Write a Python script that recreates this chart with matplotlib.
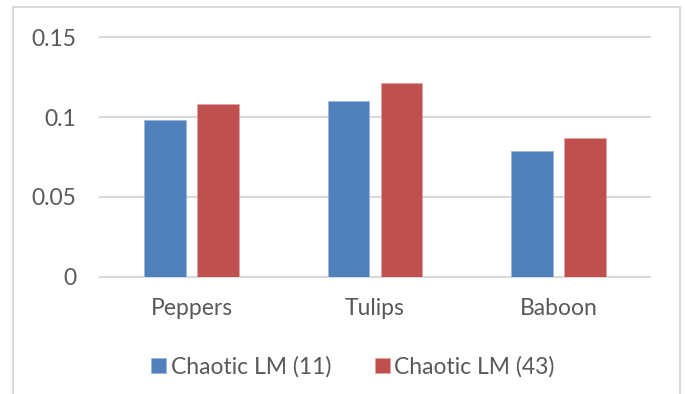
import numpy as np
import matplotlib
matplotlib.use("Agg")
from matplotlib import pyplot as plt
from matplotlib.patches import Rectangle

# Datos del gráfico
imagenes = ["Peppers", "Tulips", "Baboon"]
serie_11 = [0.0984, 0.1104, 0.0788]
serie_43 = [0.1086, 0.1213, 0.0867]
etiquetas = ["Chaotic LM (11)", "Chaotic LM (43)"]
ticks_y = [0, 0.05, 0.1, 0.15]
etiquetas_y = ["0", "0.05", "0.1", "0.15"]

azul = "#4F81BD"
rojo = "#C0504D"
gris_texto = "#595959"
gris_rejilla = "#D9D9D9"

plt.rcParams['font.family'] = ['Lato', 'DejaVu Sans']

fig = plt.figure(figsize=(6.85, 3.94), dpi=100)
ax = fig.add_axes([100/685, 1 - 276.7/394, 550/685, (276.7 - 37.5)/394])

# Marco exterior del gráfico
fig.patches.append(Rectangle((13/685, -0.05), 667/685, 1.05 - 7/394,
                             transform=fig.transFigure, fill=False,
                             edgecolor=gris_rejilla, lw=1.5))

x = np.arange(len(imagenes))
ancho = 0.228
sep = 0.06
ax.bar(x - (ancho + sep)/2, serie_11, ancho, color=azul, edgecolor="#9DB5DA", lw=0.6,
       label=etiquetas[0], zorder=3)
ax.bar(x + (ancho + sep)/2, serie_43, ancho, color=rojo, edgecolor="#E0A3A1", lw=0.6,
       label=etiquetas[1], zorder=3)

ax.set_xlim(-0.5, 2.5)
ax.set_ylim(0, 0.15)
ax.set_yticks(ticks_y)
ax.set_yticklabels(etiquetas_y)
ax.set_xticks(x)
ax.set_xticklabels(imagenes)

for y in ticks_y:
    ax.axhline(y, color=gris_rejilla, lw=1.5, zorder=1, clip_on=False)

for s in ax.spines.values():
    s.set_visible(False)
ax.tick_params(axis="both", length=0, colors=gris_texto, labelsize=16.5)
ax.tick_params(axis="y", pad=17)
ax.tick_params(axis="x", pad=15)

ax.legend(loc="center", bbox_to_anchor=(353/685, 1 - 367/394),
          bbox_transform=fig.transFigure, ncol=2, frameon=False,
          fontsize=16.5, labelcolor=gris_texto, handlelength=0.65,
          handleheight=0.65, handletextpad=0.2, columnspacing=1.9)

fig.savefig("out.png", dpi=100)
